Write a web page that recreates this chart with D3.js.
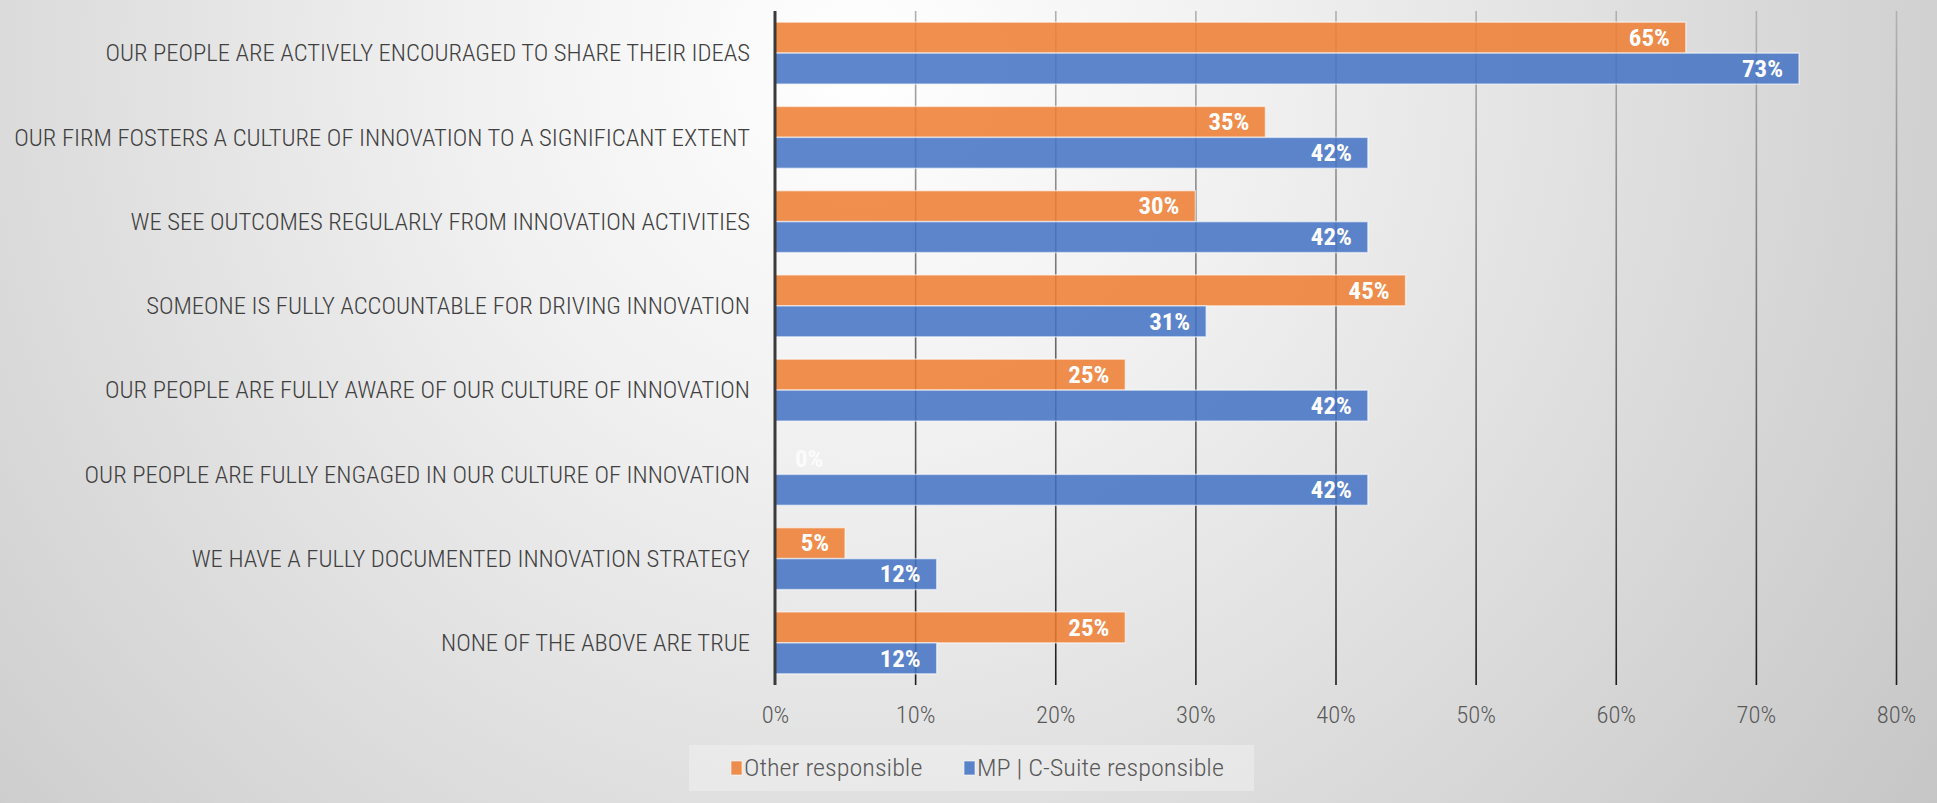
<!DOCTYPE html>
<html>
<head>
<meta charset="utf-8">
<script src="https://cdn.jsdelivr.net/npm/d3@7"></script>
<style>
  body { margin: 0; overflow: hidden; }
  svg { display: block; }
</style>
</head>
<body>
<div class="chart"></div>
<script>
// chart data
var categories = [
    "OUR PEOPLE ARE ACTIVELY ENCOURAGED TO SHARE THEIR IDEAS",
    "OUR FIRM FOSTERS A CULTURE OF INNOVATION TO A SIGNIFICANT EXTENT",
    "WE SEE OUTCOMES REGULARLY FROM INNOVATION ACTIVITIES",
    "SOMEONE IS FULLY ACCOUNTABLE FOR DRIVING INNOVATION",
    "OUR PEOPLE ARE FULLY AWARE OF OUR CULTURE OF INNOVATION",
    "OUR PEOPLE ARE FULLY ENGAGED IN OUR CULTURE OF INNOVATION",
    "WE HAVE A FULLY DOCUMENTED INNOVATION STRATEGY",
    "NONE OF THE ABOVE ARE TRUE"
];
var seriesNames = ["Other responsible", "MP | C-Suite responsible"];
var otherResponsible = [0.65, 0.35, 0.30, 0.45, 0.25, 0.00, 0.05, 0.25];
var mpResponsible = [0.7308, 0.4231, 0.4231, 0.3077, 0.4231, 0.4231, 0.1154, 0.1154];
var xTicks = [0, 0.1, 0.2, 0.3, 0.4, 0.5, 0.6, 0.7, 0.8];
var seriesColors = ["#ED7D31", "#4472C4"];

var svgWidth = 1937;
var svgHeight = 803;

var margin = { top: 11, right: 41, bottom: 118, left: 775 };
var chartWidth = svgWidth - margin.left - margin.right;
var chartHeight = svgHeight - margin.top - margin.bottom;

var font = "'Liberation Sans Narrow', 'Roboto Condensed', 'Noto Sans', sans-serif";

var svg = d3.select(".chart")
    .append("svg")
    .attr("width", svgWidth)
    .attr("height", svgHeight);

var defs = svg.append("defs");

// soft grey background, brightest near the top middle
var bg = defs.append("radialGradient")
    .attr("id", "bg")
    .attr("gradientUnits", "userSpaceOnUse")
    .attr("cx", 860).attr("cy", 60).attr("r", 1350);
bg.append("stop").attr("offset", "0").attr("stop-color", "#ffffff");
bg.append("stop").attr("offset", "0.3").attr("stop-color", "#f0f0f0");
bg.append("stop").attr("offset", "1").attr("stop-color", "#c4c4c4");

// gridlines go from grey at the top to almost black at the bottom
var gridGrad = defs.append("linearGradient")
    .attr("id", "gridGrad")
    .attr("gradientUnits", "userSpaceOnUse")
    .attr("x1", 0).attr("y1", margin.top)
    .attr("x2", 0).attr("y2", margin.top + chartHeight);
gridGrad.append("stop").attr("offset", "0").attr("stop-color", "#b0b0b0");
gridGrad.append("stop").attr("offset", "1").attr("stop-color", "#1a1a1a");

svg.append("rect")
    .attr("width", svgWidth)
    .attr("height", svgHeight)
    .attr("fill", "url(#bg)");

var chartGroup = svg.append("g")
    .attr("transform", `translate(${margin.left}, ${margin.top})`);

// scales
var xScale = d3.scaleLinear()
    .domain([0, 0.8])
    .range([0, chartWidth]);

var yScale = d3.scaleBand()
    .domain(categories)
    .range([0, chartHeight])
    .paddingInner(0.265)
    .paddingOuter(0.1325);

var subScale = d3.scaleBand()
    .domain(seriesNames)
    .range([0, yScale.bandwidth()]);

// vertical gridlines (ticks of the x axis)
var xAxis = d3.axisBottom(xScale)
    .tickValues(xTicks)
    .tickSize(chartHeight)
    .tickFormat(d3.format(".0%"));

var xAxisGroup = chartGroup.append("g").call(xAxis);
xAxisGroup.select(".domain").remove();
xAxisGroup.selectAll(".tick line")
    .attr("stroke", "url(#gridGrad)")
    .attr("stroke-width", 1.6)
    .filter(d => d === 0).remove();
xAxisGroup.selectAll(".tick text")
    .attr("y", chartHeight + 30)
    .attr("dy", "0.35em")
    .attr("fill", "#595959")
    .style("font-family", font)
    .style("font-weight", 300)
    .style("font-size", "23px");

// bars
var rows = categories.map((c, i) => ({ cat: c, values: [otherResponsible[i], mpResponsible[i]] }));

var rowGroups = chartGroup.selectAll(".row")
    .data(rows)
    .enter()
    .append("g")
    .attr("class", "row")
    .attr("transform", d => `translate(0, ${yScale(d.cat)})`);

var bars = rowGroups.selectAll("rect")
    .data(d => d.values.map((v, j) => ({ v: v, s: seriesNames[j], j: j })))
    .enter()
    .append("rect")
    .attr("x", xScale(0))
    .attr("y", d => subScale(d.s))
    .attr("width", d => xScale(d.v) - xScale(0))
    .attr("height", subScale.bandwidth())
    .attr("fill", d => seriesColors[d.j])
    .attr("fill-opacity", 0.86)
    .attr("stroke", "rgba(255,255,255,0.55)")
    .attr("stroke-width", 1.5);

// value labels inside bar ends
var valueLabels = rowGroups.selectAll(".val")
    .data(d => d.values.map((v, j) => ({ v: v, s: seriesNames[j], j: j })))
    .enter()
    .append("text")
    .attr("class", "val")
    .attr("x", d => d.v === 0 ? xScale(0) + 20 : xScale(d.v) - 16)
    .attr("y", d => subScale(d.s) + subScale.bandwidth() / 2)
    .attr("dy", "0.36em")
    .attr("text-anchor", d => d.v === 0 ? "start" : "end")
    .attr("fill", "#ffffff")
    .attr("fill-opacity", d => d.v === 0 ? 0.8 : 1)
    .style("font-family", font)
    .style("font-weight", "bold")
    .style("font-size", "23px")
    .text(d => d3.format(".0%")(d.v));

// y axis line at 0
chartGroup.append("line")
    .attr("x1", xScale(0)).attr("x2", xScale(0))
    .attr("y1", 0).attr("y2", chartHeight)
    .attr("stroke", "#3a3a3a")
    .attr("stroke-width", 3);

// category labels
var catLabels = chartGroup.selectAll(".cat")
    .data(categories)
    .enter()
    .append("text")
    .attr("class", "cat")
    .attr("text-anchor", "end")
    .attr("dy", "0.36em")
    .attr("fill", "#404040")
    .style("font-family", font)
    .style("font-weight", 300)
    .style("font-size", "23px")
    .text(d => d);

// legend
var legend = svg.append("g");
legend.append("rect")
    .attr("x", 689).attr("y", 745)
    .attr("width", 565).attr("height", 46)
    .attr("fill", "#f4f4f4")
    .attr("fill-opacity", 0.45);

var legendX = [731, 964];
var legendItems = legend.selectAll(".leg")
    .data(seriesNames)
    .enter()
    .append("g")
    .attr("class", "leg")
    .attr("transform", (d, i) => `translate(${legendX[i]}, 768)`);

legendItems.append("rect")
    .attr("x", 0).attr("y", -7)
    .attr("width", 11).attr("height", 14)
    .attr("fill", (d, i) => seriesColors[i])
    .attr("fill-opacity", 0.86)
    .attr("stroke", "rgba(255,255,255,0.6)")
    .attr("stroke-width", 1);

var legendText = legendItems.append("text")
    .attr("dy", "0.36em")
    .attr("fill", "#595959")
    .style("font-family", font)
    .style("font-weight", 300)
    .style("font-size", "23px")
    .text(d => d);

// squeeze the text horizontally so it reads like the narrow original font
var widest = d3.max(catLabels.nodes(), n => n.getComputedTextLength());
var k = 736 / widest;
var boldW = valueLabels.filter(d => d.v > 0.7).node().getComputedTextLength();
var kb = 41 / boldW;
var legW = legendText.filter((d, i) => i === 1).node().getComputedTextLength();
var kl = 247 / legW;

catLabels.attr("transform", d => `translate(-25, ${yScale(d) + yScale.bandwidth() / 2}) scale(${k}, 1)`);
valueLabels.attr("transform", function(d) {
    var x = +d3.select(this).attr("x");
    return `translate(${x}, 0) scale(${kb}, 1) translate(${-x}, 0)`;
});
xAxisGroup.selectAll(".tick text").attr("transform", `scale(${k}, 1)`);
legendText.attr("x", 13 / kl).attr("transform", `scale(${kl}, 1)`);
</script>
</body>
</html>
